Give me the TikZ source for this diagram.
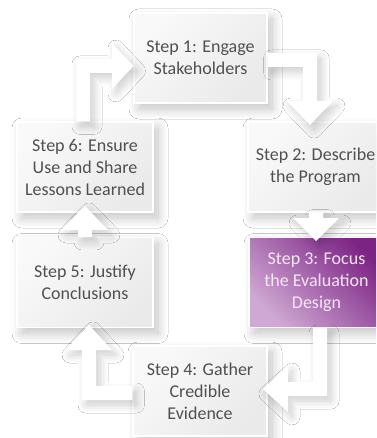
\documentclass[tikz,border=0pt]{standalone}
\usepackage{fontspec}
\setmainfont{Carlito}
\usetikzlibrary{shadows.blur}
\definecolor{txtgray}{HTML}{505050}
\definecolor{boxlight}{HTML}{F9F9F9}
\definecolor{boxdark}{HTML}{EAEAEA}
\definecolor{purdark}{HTML}{7C2484}
\definecolor{purlight}{HTML}{CFA9D4}
\definecolor{purtext}{HTML}{F5E8F5}
\begin{document}
\begin{tikzpicture}[x=1pt,y=-1pt,
  softshadow/.style={blur shadow={shadow xshift=5pt, shadow yshift=-6pt, shadow blur radius=10pt, shadow blur steps=16, shadow opacity=24}},
  arrowshadow/.style={blur shadow={shadow xshift=4pt, shadow yshift=-5pt, shadow blur radius=8pt, shadow blur steps=14, shadow opacity=20}},
  stepbox/.style={rectangle, minimum width=135pt, minimum height=90pt, draw=white, line width=1.2pt,
    top color=boxlight, bottom color=boxdark, shading angle=45, text=txtgray,
    font=\fontsize{18}{22}\selectfont, align=center, softshadow},
  focusbox/.style={stepbox, top color=purdark, bottom color=purlight, shading angle=-45, text=purtext},
  blockarrow/.style={fill=white, draw=none, arrowshadow}]
\clip (0,0) rectangle (376,438);
\fill[white] (0,0) rectangle (376,438);
% boxes
\node[stepbox, minimum width=133pt] (b1) at (200.5,58) {Step 1: Engage\\Stakeholders};
\node[stepbox] (b2) at (315.5,167) {Step 2: Describe\\the Program};
\node[focusbox] (b3) at (316.5,282.5) {Step 3: Focus\\the Evaluation\\Design};
\node[stepbox, minimum width=134pt] (b4) at (200,391) {Step 4: Gather\\Credible\\Evidence};
\node[stepbox, minimum width=136pt] (b5) at (85,282.5) {Step 5: Justify\\Conclusions};
\node[stepbox, minimum width=136pt] (b6) at (85,167) {Step 6: Ensure\\Use and Share\\Lessons Learned};
% block arrows
% 6 -> 1
\path[blockarrow] (b6.north -| 76,0) -- (76,59) -- (112,59) -- (112,43) -- (b1.west |- 0,66) -- (112,89) -- (112,73) -- (90,73) -- (b6.north -| 90,0) -- cycle;
% 1 -> 2
\path[blockarrow] (b1.east |- 0,53) -- (317,53) -- (317,101) -- (333,101) -- (310,125) -- (287,101) -- (303,101) -- (303,67) -- (b1.east |- 0,67) -- cycle;
% 2 -> 3
\path[blockarrow] (b2.south -| 309,0) -- (b2.south -| 323,0) -- (323,218) -- (339,218) -- (316,241) -- (293,218) -- (309,218) -- cycle;
% 3 -> 4
\path[blockarrow] (b3.south -| 313,0) -- (b3.south -| 327,0) -- (327,396) -- (288,396) -- (288,412) -- (263,389) -- (288,366) -- (288,382) -- (313,382) -- cycle;
% 4 -> 5
\path[blockarrow] (b4.west |- 0,386) -- (b4.west |- 0,400) -- (82,400) -- (82,350) -- (66,350) -- (89,325) -- (112,350) -- (96,350) -- (96,386) -- cycle;
% 5 -> 6
\path[blockarrow] (b5.north -| 78,0) -- (78,230) -- (62,230) -- (85,206) -- (108,230) -- (92,230) -- (b5.north -| 92,0) -- cycle;
\end{tikzpicture}
\end{document}
